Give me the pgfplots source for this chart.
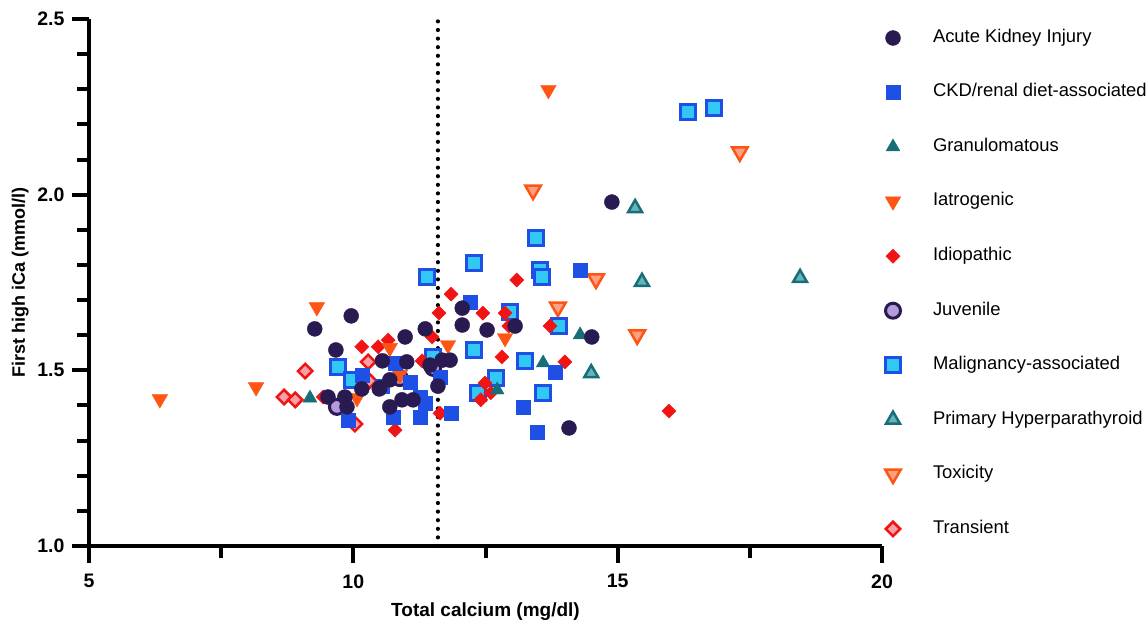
\documentclass[border=0pt]{standalone}
\usepackage{fontspec}
\setmainfont{Liberation Sans}
\usepackage{pgfplots}
\pgfplotsset{compat=1.18}
\definecolor{aki}{RGB}{42,26,82}
\definecolor{ckd}{RGB}{30,80,230}
\definecolor{gran}{RGB}{24,110,120}
\definecolor{iatro}{RGB}{255,85,20}
\definecolor{idio}{RGB}{240,20,20}
\definecolor{juvfill}{RGB}{180,155,220}
\definecolor{malfill}{RGB}{50,200,245}
\definecolor{phfill}{RGB}{100,180,185}
\definecolor{toxfill}{RGB}{255,160,130}
\definecolor{transfill}{RGB}{248,160,165}
\begin{document}
\begin{tikzpicture}
\begin{axis}[
  scale only axis, width=793pt, height=527pt,
  xmin=5, xmax=20, ymin=1, ymax=2.5,
  axis lines=left,
  axis line style={line width=4pt,-},
  major tick style={black,line width=4pt},
  minor tick style={black,line width=4pt},
  tick align=outside, major tick length=17pt, minor tick length=12pt,
  xtick={5,10,15,20}, minor xtick={7.5,12.5,17.5},
  ytick={1,1.5,2,2.5},
  minor ytick={1.1,1.2,1.3,1.4,1.6,1.7,1.8,1.9,2.1,2.2,2.3,2.4},
  tick label style={font=\fontsize{19.5}{19.5}\selectfont\bfseries},
  yticklabel style={xshift=-4pt,/pgf/number format/.cd,fixed,fixed zerofill,precision=1},
  xticklabel style={yshift=-8pt},
  /pgf/number format/assume math mode=true,
  xlabel={Total calcium (mg/dl)},
  ylabel={First high iCa (mmol/l)},
  xlabel style={font=\fontsize{19}{19}\selectfont\bfseries, at={(axis description cs:0.5,-0.125)}, anchor=center},
  ylabel style={font=\fontsize{18}{18}\selectfont\bfseries, at={(axis description cs:-0.0867,0.5)}, anchor=center},
  clip=false,
  reverse legend,
  legend cell align=left,
  legend style={at={(rel axis cs:1,1)}, anchor=north west, xshift=-1pt, yshift=-10.5pt,
    draw=none, fill=none, inner sep=0pt, outer sep=0pt,
    row sep=37.44pt, column sep=0pt,
    font=\fontsize{18.4}{18.4}\selectfont,
    nodes={inner sep=0pt, text height=13pt, text depth=4pt}},
  legend image code/.code={\path[draw=none,fill=none] (-12pt,-8pt) rectangle (40pt,8pt); \draw[#1] plot coordinates {(0pt,0pt)};},
]
\coordinate (sw) at (rel axis cs:0,0);
\coordinate (ne) at (rel axis cs:1,1);

\addplot[forget plot, black, line width=4.2pt, line cap=round, dash pattern=on 0pt off 8.6pt] coordinates {(11.6,1.0) (11.6,2.5)};

% Transient
\addplot[only marks, mark=square*, mark size=5.1pt, mark options={rotate=45, draw=idio, fill=transfill, line width=2.5pt}] coordinates {
(8.69,1.424) (8.90,1.416) (9.09,1.498) (10.28,1.524) (10.03,1.347) (10.30,1.470)};
\addlegendentry{Transient}
% Toxicity
\addplot[only marks, mark=triangle*, mark size=9pt, mark options={rotate=180, draw=iatro, fill=toxfill, line width=2.5pt}] coordinates {
(13.40,2.013) (17.31,2.122) (13.87,1.680) (14.59,1.760) (15.37,1.601)};
\addlegendentry{Toxicity}
% Primary Hyperparathyroid
\addplot[only marks, mark=triangle*, mark size=8pt, mark options={draw=gran, fill=phfill, line width=2.5pt}] coordinates {
(15.33,1.962) (15.46,1.752) (14.50,1.492) (18.45,1.763)};
\addlegendentry{Primary Hyperparathyroid}
% Malignancy-associated
\addplot[only marks, mark=square*, mark size=7.5pt, mark options={draw=ckd, fill=malfill, line width=3pt}] coordinates {
(13.45,1.877) (12.28,1.806) (13.53,1.786) (13.57,1.766) (12.96,1.666) (13.89,1.626)
(12.28,1.558) (13.25,1.527) (12.70,1.478) (12.36,1.436) (13.59,1.436) (16.33,2.235)
(16.82,2.247) (11.39,1.766) (9.71,1.510) (9.97,1.473) (11.51,1.538)};
\addlegendentry{Malignancy-associated}
% Juvenile
\addplot[only marks, mark=*, mark size=7.5pt, mark options={draw=aki, fill=juvfill, line width=3pt}] coordinates {
(9.69,1.396) (11.51,1.507) (10.88,1.478)};
\addlegendentry{Juvenile}
% Idiopathic
\addplot[only marks, mark=square*, mark size=5pt, mark options={rotate=45, draw=idio, fill=idio}] coordinates {
(13.09,1.757) (12.45,1.663) (12.87,1.663) (12.94,1.626) (13.72,1.626) (12.81,1.538)
(14.00,1.524) (12.49,1.464) (12.60,1.436) (12.41,1.416) (11.85,1.717) (11.62,1.663)
(11.49,1.595) (11.30,1.527) (11.64,1.378) (10.79,1.330) (10.66,1.586) (10.16,1.567)
(10.47,1.567) (9.43,1.424) (15.97,1.384)};
\addlegendentry{Idiopathic}
% Iatrogenic
\addplot[only marks, mark=triangle*, mark size=9pt, mark options={rotate=180, draw=iatro, fill=iatro}] coordinates {
(13.69,2.298) (6.34,1.418) (8.16,1.452) (9.31,1.680) (11.79,1.572) (10.69,1.564)
(12.87,1.592) (10.88,1.487) (10.07,1.421)};
\addlegendentry{Iatrogenic}
% Granulomatous
\addplot[only marks, mark=triangle*, mark size=8pt, mark options={draw=gran, fill=gran}] coordinates {
(14.29,1.601) (13.59,1.521) (12.72,1.444) (9.18,1.421)};
\addlegendentry{Granulomatous}
% CKD
\addplot[only marks, mark=square*, mark size=7pt, mark options={draw=ckd, fill=ckd}] coordinates {
(12.21,1.695) (14.29,1.786) (13.81,1.496) (13.21,1.396) (13.47,1.325) (11.85,1.378)
(9.90,1.358) (10.16,1.487) (10.79,1.521) (11.07,1.467) (11.26,1.424) (11.36,1.407)
(10.75,1.367) (11.26,1.367) (11.64,1.481) (10.54,1.455)};
\addlegendentry{CKD/renal diet-associated}
% Acute Kidney Injury
\addplot[only marks, mark=*, mark size=7.5pt, mark options={draw=aki, fill=aki}] coordinates {
(9.27,1.618) (9.96,1.655) (9.67,1.558) (10.55,1.527) (10.98,1.595) (11.36,1.618)
(12.06,1.677) (12.06,1.629) (12.53,1.615) (13.06,1.626) (11.68,1.529) (11.83,1.529)
(11.60,1.455) (11.01,1.524) (10.69,1.473) (10.50,1.450) (10.92,1.416) (11.13,1.416)
(10.69,1.396) (9.52,1.424) (9.84,1.424) (10.16,1.447) (10.49,1.447) (9.88,1.396)
(14.89,1.979) (14.51,1.595) (14.08,1.336) (11.45,1.515)};
\addlegendentry{Acute Kidney Injury}
\end{axis}
\pgfresetboundingbox
\path ([shift={(-89pt,-77pt)}]sw) rectangle ([shift={(264pt,19pt)}]ne);
\end{tikzpicture}
\end{document}
